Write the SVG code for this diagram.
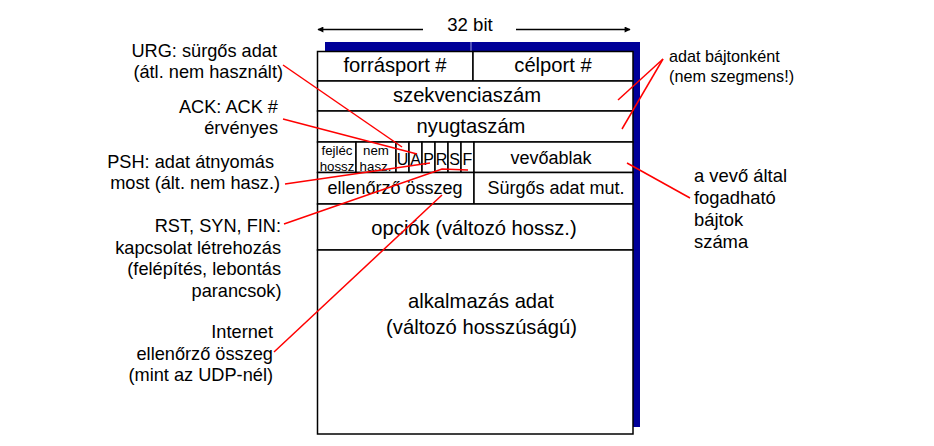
<svg xmlns="http://www.w3.org/2000/svg" width="934" height="446" viewBox="0 0 934 446">
<style>
text{font-family:"Liberation Sans",Arial,sans-serif;fill:#000}
.f{fill:#fff;stroke:#000;stroke-width:1.5}
.big{font-size:20.2px;text-anchor:middle}
.mid{font-size:18px;text-anchor:middle}
.flag{font-size:16px;text-anchor:middle}
.tiny{font-size:13.3px;text-anchor:middle}
.lbl{font-size:18.2px;text-anchor:end}
.rl{font-size:16.2px}
.rl2{font-size:18.4px}
.red{stroke:#f00;stroke-width:1.5;fill:none}
.arr{stroke:#000;stroke-width:1.5;fill:none}
</style>
<defs>
<marker id="ah" viewBox="0 0 10 10" refX="9" refY="5" markerWidth="8" markerHeight="6" orient="auto" markerUnits="userSpaceOnUse">
<path d="M0,0 L10,5 L0,10 z" fill="#000"/>
</marker>
</defs>
<rect width="934" height="446" fill="#fff"/>
<g id="width-indicator">
<line class="arr" x1="423" y1="29.5" x2="318" y2="29.5" marker-end="url(#ah)"/>
<line class="arr" x1="516" y1="29.5" x2="630" y2="29.5" marker-end="url(#ah)"/>
<text x="470" y="30.5" style="font-size:18.6px;text-anchor:middle">32 bit</text>
</g>
<g id="shadow">
<rect x="325" y="42" width="315" height="385" fill="#000099"/>
<line x1="471" y1="42" x2="471" y2="51" stroke="#9a9ad8" stroke-width="1"/>
</g>
<g id="forrasport"><rect class="f" x="317.5" y="51.5" width="155.5" height="29.5"/><text class="big" x="395" y="72">forrásport #</text></g>
<g id="celport"><rect class="f" x="473" y="51.5" width="160" height="29.5"/><text class="big" x="553" y="72">célport #</text></g>
<g id="szekvenciaszam"><rect class="f" x="317.5" y="81" width="315.5" height="30"/><text class="big" x="467" y="102">szekvenciaszám</text></g>
<g id="nyugtaszam"><rect class="f" x="317.5" y="111" width="315.5" height="31"/><text class="big" x="471" y="133">nyugtaszám</text></g>
<g id="fejlec-hossz"><rect class="f" x="317.5" y="142" width="38.5" height="30.5"/><text class="tiny" x="337" y="154.5">fejléc</text><text class="tiny" x="337" y="170.5">hossz</text></g>
<g id="nem-hasz"><rect class="f" x="356" y="142" width="40" height="30.5"/><text class="tiny" x="376" y="154.5">nem</text><text class="tiny" x="375.5" y="170.5">hasz.</text></g>
<g id="flag-U"><rect class="f" x="396" y="142" width="13" height="30.5"/><text class="flag" x="402.5" y="164.5">U</text></g>
<g id="flag-A"><rect class="f" x="409" y="142" width="13" height="30.5"/><text class="flag" x="415.5" y="164.5">A</text></g>
<g id="flag-P"><rect class="f" x="422" y="142" width="13" height="30.5"/><text class="flag" x="428.5" y="164.5">P</text></g>
<g id="flag-R"><rect class="f" x="435" y="142" width="13" height="30.5"/><text class="flag" x="441.5" y="164.5">R</text></g>
<g id="flag-S"><rect class="f" x="448" y="142" width="13" height="30.5"/><text class="flag" x="454.5" y="164.5">S</text></g>
<g id="flag-F"><rect class="f" x="461" y="142" width="13" height="30.5"/><text class="flag" x="467.5" y="164.5">F</text></g>
<g id="vevoablak"><rect class="f" x="474" y="142" width="159" height="30.5"/><text class="mid" x="551" y="163.5">vevőablak</text></g>
<g id="ellenorzo"><rect class="f" x="317.5" y="172.5" width="156.5" height="31.5"/><text class="mid" x="395" y="194">ellenőrző összeg</text></g>
<g id="surgos"><rect class="f" x="474" y="172.5" width="159" height="31.5"/><text class="mid" x="556" y="194">Sürgős adat mut.</text></g>
<g id="opciok"><rect class="f" x="317.5" y="204" width="315.5" height="46"/><text class="big" x="474" y="234.5">opciók (változó hossz.)</text></g>
<g id="alkalmazas"><rect class="f" x="317.5" y="250" width="315.5" height="184"/><text class="big" x="481" y="308">alkalmazás adat</text><text class="big" x="481.5" y="334">(változó hosszúságú)</text></g>
<g id="label-urg"><text class="lbl" x="277" y="57">URG: sürgős adat</text><text class="lbl" x="283" y="77.5">(átl. nem használt)</text></g>
<g id="label-ack"><text class="lbl" x="278" y="113">ACK: ACK #</text><text class="lbl" x="278" y="134">érvényes</text></g>
<g id="label-psh"><text class="lbl" x="274" y="168">PSH: adat átnyomás</text><text class="lbl" x="280" y="189">most (ált. nem hasz.)</text></g>
<g id="label-rst"><text class="lbl" x="281" y="232">RST, SYN, FIN:</text><text class="lbl" x="281" y="253.5">kapcsolat létrehozás</text><text class="lbl" x="281" y="275">(felépítés, lebontás</text><text class="lbl" x="281.5" y="297">parancsok)</text></g>
<g id="label-internet"><text class="lbl" x="273" y="338">Internet</text><text class="lbl" x="273" y="359.5">ellenőrző összeg</text><text class="lbl" x="273" y="381">(mint az UDP-nél)</text></g>
<g id="label-bajt"><text class="rl" x="669" y="62">adat bájtonként</text><text class="rl" x="669" y="82">(nem szegmens!)</text></g>
<g id="label-vevo"><text class="rl2" x="694" y="182">a vevő által</text><text class="rl2" x="694" y="204">fogadható</text><text class="rl2" x="694" y="226">bájtok</text><text class="rl2" x="694" y="247.5">száma</text></g>
<g id="connectors">
<line class="red" x1="283" y1="65" x2="402" y2="147"/>
<line class="red" x1="283" y1="119" x2="417" y2="154"/>
<line class="red" x1="285" y1="184" x2="430" y2="163"/>
<polyline class="red" points="284,224 442,169 468,170"/>
<line class="red" x1="274" y1="352" x2="442" y2="195"/>
<line class="red" x1="663" y1="59" x2="618" y2="100"/>
<line class="red" x1="663" y1="59" x2="622" y2="129"/>
<line class="red" x1="627" y1="163" x2="690" y2="198"/>
</g>
</svg>
